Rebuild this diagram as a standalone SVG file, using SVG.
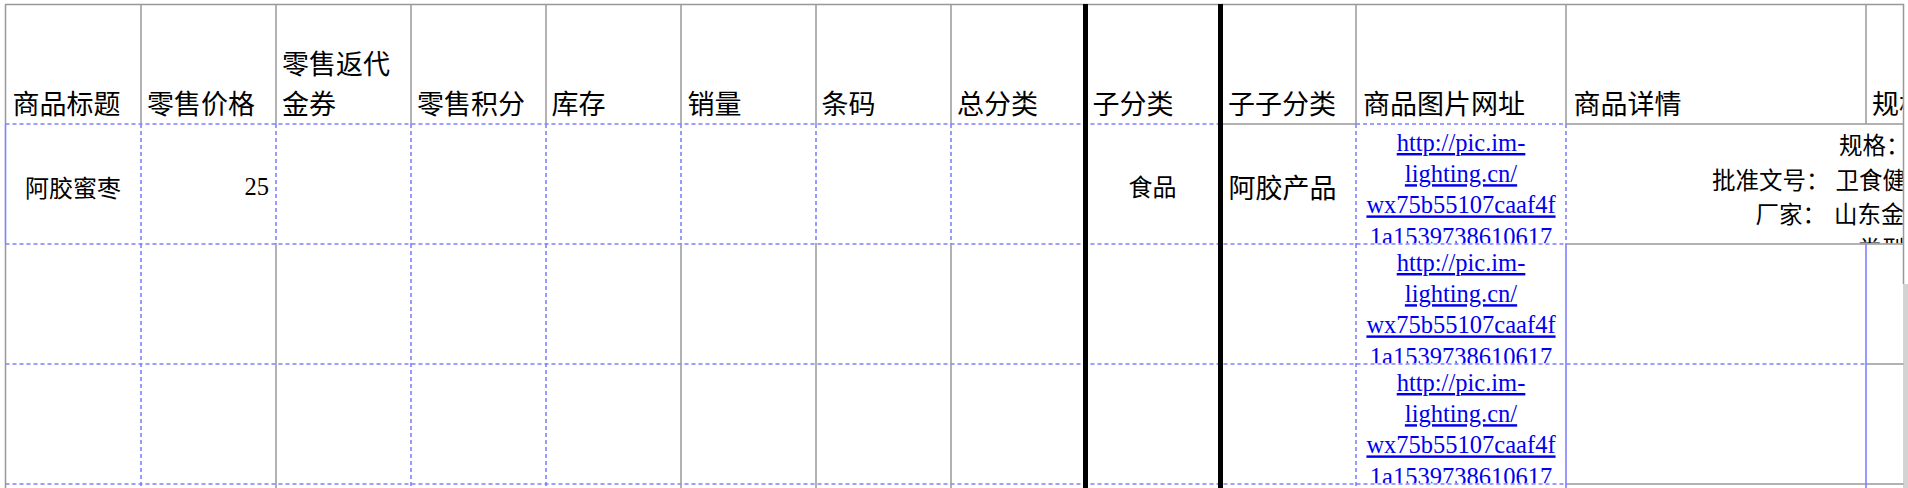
<svg xmlns="http://www.w3.org/2000/svg" width="1908" height="488" viewBox="0 0 1908 488">
<style>
.g{stroke:#999;stroke-width:1.5;fill:none}
.d{stroke:#8080ff;stroke-width:1.6;stroke-dasharray:4 3;fill:none}
.b{stroke:#8080ff;stroke-width:1.6;fill:none}
.k{stroke:#000;stroke-width:5;fill:none}
.h{font-family:"Noto Sans CJK SC",sans-serif;font-size:27px;fill:#000}
.c{font-family:"Noto Sans CJK SC",sans-serif;font-size:24px;fill:#000}
.c2{font-family:"Noto Sans CJK SC",sans-serif;font-size:23.5px;fill:#000}
.u{font-family:"Liberation Serif","Times New Roman",serif;font-size:24.5px;fill:#0000ee;text-decoration:underline;text-anchor:middle}
.n{font-family:"Liberation Serif","Times New Roman",serif;font-size:24.5px;fill:#000}
</style>
<defs>
<clipPath id="cu1"><rect x="1357" y="124.75" width="208" height="118.5"/></clipPath>
<clipPath id="cu2"><rect x="1357" y="244.75" width="208" height="118.5"/></clipPath>
<clipPath id="cu3"><rect x="1357" y="364.75" width="208" height="118.5"/></clipPath>
<clipPath id="cd1"><rect x="1567" y="124.75" width="335.75" height="118.5"/></clipPath>
<clipPath id="ch"><rect x="1867" y="5" width="35.75" height="118"/></clipPath>
</defs>
<rect width="1908" height="488" fill="#fff"/>

<g id="header">
<text class="h" x="12.5" y="114">商品标题</text>
<text class="h" x="147" y="114">零售价格</text>
<text class="h" x="282" y="74">零售返代</text>
<text class="h" x="282" y="114">金券</text>
<text class="h" x="417" y="114">零售积分</text>
<text class="h" x="551.5" y="114">库存</text>
<text class="h" x="687.5" y="114">销量</text>
<text class="h" x="821.5" y="114">条码</text>
<text class="h" x="957" y="114">总分类</text>
<text class="h" x="1092.5" y="114">子分类</text>
<text class="h" x="1228" y="114">子子分类</text>
<text class="h" x="1363" y="114">商品图片网址</text>
<text class="h" x="1573.5" y="114">商品详情</text>
<g clip-path="url(#ch)"><text class="h" x="1872" y="114">规格</text></g>
</g>

<g id="row1">
<text class="c" x="73" y="197" text-anchor="middle">阿胶蜜枣</text>
<text class="n" x="269" y="194.5" text-anchor="end">25</text>
<text class="c" x="1152.5" y="196" text-anchor="middle">食品</text>
<text class="h" x="1228.5" y="198">阿胶产品</text>
<g clip-path="url(#cu1)">
<text class="u" x="1461" y="151">http://pic.im-</text>
<text class="u" x="1461" y="182.2">lighting.cn/</text>
<text class="u" x="1461" y="213.4">wx75b55107caaf4f</text>
<text class="u" x="1461" y="244.6">1a1539738610617</text>
</g>
<g clip-path="url(#cd1)">
<text class="c2" y="154"><tspan x="1839">规格：</tspan></text>
<text class="c2" y="188.5"><tspan x="1712">批准文号：</tspan><tspan x="1835.5">卫食健</tspan></text>
<text class="c2" y="223"><tspan x="1755.5">厂家：</tspan><tspan x="1834">山东金</tspan></text>
<text class="c2" y="257.5"><tspan x="1858">类型</tspan></text>
</g>
</g>

<g id="row2" clip-path="url(#cu2)">
<text class="u" x="1461" y="271">http://pic.im-</text>
<text class="u" x="1461" y="302.2">lighting.cn/</text>
<text class="u" x="1461" y="333.4">wx75b55107caaf4f</text>
<text class="u" x="1461" y="364.6">1a1539738610617</text>
</g>

<g id="row3" clip-path="url(#cu3)">
<text class="u" x="1461" y="391">http://pic.im-</text>
<text class="u" x="1461" y="422.2">lighting.cn/</text>
<text class="u" x="1461" y="453.4">wx75b55107caaf4f</text>
<text class="u" x="1461" y="484.6">1a1539738610617</text>
</g>

<g id="grid">
<rect x="1903" y="284" width="5" height="204" fill="#d3d3d3"/>
<path class="d" d="M5.5 124H1220.5M1356 124H1566M5.5 244H1566M5.5 364H1866M5.5 484H1566
M141 124V244M276 124V244M411 124V244M546 124V244M681 124V244M816 124V244M951 124V244M1356 124V244M1566 124V244
M141 244V488M411 244V488M546 244V488M1356 244V488"/>
<path class="g" d="M5 4.5H1904.25M5.5 4.5V124M141 4.5V124M276 4.5V124M411 4.5V124M546 4.5V124M681 4.5V124M816 4.5V124M951 4.5V124M1356 4.5V124M1566 4.5V124M1866 4.5V124
M1903.5 4.5V284M1220.5 124H1356M1566 124H1903.5M1566 244H1903.5M1866 364H1903.5M1566 484H1903.5
M5.5 244V488M276 244V488M681 244V488M816 244V488M951 244V488"/>
<path class="b" d="M5.5 124V244M1566 244V488M1866 244V488"/>
<path class="k" d="M1085.5 4V488M1220.5 4V488"/>
</g>
</svg>
